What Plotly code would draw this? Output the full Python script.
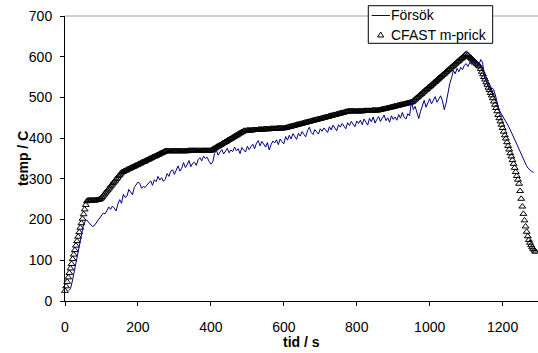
import plotly.graph_objects as go

# Försök (measured gas temperature), one reading every 5 s starting at 10 s
forsok_start = 10
forsok_step = 5
forsok_temp = [
    25, 30, 48, 72, 98, 122, 146, 166, 184, 196,
    199, 193, 187, 183, 185, 191, 198, 206, 211, 216,
    214, 224, 231, 225, 233, 228, 221, 238, 249, 240,
    262, 254, 258, 274, 266, 261, 279, 286, 292, 289,
    277, 281, 279, 285, 291, 295, 284, 298, 293, 306,
    297, 303, 294, 299, 313, 306, 319, 322, 311, 324,
    332, 319, 326, 340, 328, 335, 345, 330, 338, 341,
    333, 347, 352, 344, 356, 350, 353, 343, 336, 341,
    362, 370, 358, 366, 372, 361, 369, 375, 364, 371,
    367, 378, 369, 374, 362, 377, 371, 366, 380, 372,
    379, 385, 374, 388, 394, 381, 392, 386, 378, 389,
    371, 384, 393, 388, 396, 384, 398, 391, 386, 404,
    395, 407, 398, 411, 402, 397, 412, 405, 416, 408,
    403, 418, 427, 414, 409, 421, 416, 410, 423, 417,
    425, 419, 414, 428, 420, 432, 424, 418, 433, 427,
    436, 429, 423, 438, 431, 441, 434, 428, 442, 436,
    444, 433, 447, 438, 432, 449, 440, 452, 437, 446,
    453, 441, 448, 457, 443, 450, 439, 455, 446, 452,
    444, 458, 449, 463, 451, 447, 460, 455, 491, 470,
    478, 462, 448, 466, 482, 493, 476, 489, 497, 484,
    495, 502, 488, 497, 504, 492, 470, 486, 512, 534,
    548, 566, 558, 571, 563, 574, 568, 579, 583, 576,
    586, 581, 591, 584, 588, 580, 593, 586, 551, 538,
    528, 517, 524, 520, 506, 488, 470, 462, 455, 447,
    440, 431, 422, 411, 402, 393, 383, 373, 362, 350,
    341, 333, 326, 321, 318, 316,
]

# CFAST m-prick, one value every 3 s starting at 0 s
cfast_step = 3
cfast_temp = [
    # 0 - 60
    25, 36, 47, 58, 69, 80, 91, 103, 114, 125, 136, 147, 158, 169, 180, 191,
    202, 213, 225, 236, 245,
    # 63 - 99
    247, 247, 247, 247, 247, 247, 247, 247, 248, 248, 249, 250, 252,
    # 102 - 156
    255, 259, 262, 266, 269, 272, 276, 279, 283, 286, 290, 293, 296, 300,
    303, 307, 310, 313, 316,
    # 159 - 276
    317, 319, 320, 321, 323, 324, 325, 327, 328, 329, 330, 332, 333, 334,
    336, 337, 338, 340, 341, 342, 343, 345, 346, 347, 349, 350, 351, 353,
    354, 355, 356, 358, 359, 360, 362, 363, 364, 366, 367, 368,
    # 279 - 399
    368, 368, 368, 368, 368, 368, 368, 368, 368, 368, 368, 368, 368, 368,
    368, 368, 368, 368, 368, 368, 369, 369, 369, 369, 369, 369, 369, 369,
    369, 369, 369, 369, 369, 369, 369, 369, 369, 369, 369, 369, 369,
    # 402 - 492
    371, 372, 374, 375, 377, 379, 380, 382, 383, 385, 387, 388, 390, 391,
    393, 395, 396, 398, 399, 401, 403, 404, 406, 407, 409, 411, 412, 414,
    415, 417, 418,
    # 495 - 600
    418, 418, 419, 419, 419, 419, 419, 420, 420, 420, 420, 420, 421, 421,
    421, 421, 421, 422, 422, 422, 422, 422, 422, 423, 423, 423, 423, 423,
    423, 424, 424, 424, 424, 424, 424, 424,
    # 603 - 777
    425, 425, 426, 427, 428, 428, 429, 430, 430, 431, 432, 433, 433, 434,
    435, 435, 436, 437, 438, 438, 439, 440, 440, 441, 442, 443, 443, 444,
    445, 445, 446, 447, 447, 448, 449, 450, 450, 451, 452, 452, 453, 454,
    455, 455, 456, 457, 457, 458, 459, 460, 460, 461, 462, 462, 463, 464,
    465, 465, 466,
    # 780 - 858
    466, 466, 466, 466, 466, 466, 466, 466, 466, 466, 466, 466, 466, 467,
    467, 467, 467, 467, 467, 467, 467, 468, 468, 468, 468, 468, 468,
    # 861 - 951
    469, 469, 470, 471, 471, 472, 472, 473, 474, 474, 475, 476, 476, 477,
    478, 478, 479, 480, 480, 481, 482, 482, 483, 484, 484, 485, 486, 486,
    487, 488, 488,
    # 954 - 1101
    490, 493, 495, 498, 500, 502, 505, 507, 509, 512, 514, 517, 519, 521,
    524, 526, 528, 531, 533, 536, 538, 540, 543, 545, 548, 550, 552, 555,
    557, 559, 562, 564, 567, 569, 571, 574, 576, 578, 581, 583, 586, 588,
    590, 593, 595, 597, 600, 602, 605, 607,
    # 1104 - 1290
    604, 602, 599, 597, 594, 591, 589, 586, 583, 581, 578, 576,
    570, 563, 557, 550, 544, 537, 531, 524, 518, 511, 505, 498,
    490, 482, 474, 466, 457, 449, 441, 433, 425, 416,
    407, 399, 390, 381, 372, 363, 355, 346, 337,
    327, 317, 307, 298, 288,
    270, 251, 232, 214, 198, 183, 170, 159, 150, 143, 137, 132, 128, 124, 121,
]

x_ticks = [0, 200, 400, 600, 800, 1000, 1200]
y_ticks = [0, 100, 200, 300, 400, 500, 600, 700]

forsok_time = [forsok_start + forsok_step * i for i in range(len(forsok_temp))]
cfast_time = [cfast_step * i for i in range(len(cfast_temp))]

FONT = "Liberation Sans, Arial, sans-serif"

fig = go.Figure()
fig.add_trace(go.Scatter(
    x=cfast_time, y=cfast_temp, mode="markers", name="CFAST m-prick",
    marker=dict(symbol="triangle-up-open", size=6, color="black",
                line=dict(color="black", width=1)),
    cliponaxis=False,
))
fig.add_trace(go.Scatter(
    x=forsok_time, y=forsok_temp, mode="lines", name="Försök",
    line=dict(color="#000080", width=1),
))

axis_common = dict(
    showline=True, linecolor="black", linewidth=1,
    ticks="outside", ticklen=4, tickcolor="black", tickwidth=1,
    showgrid=False, zeroline=False,
    tickfont=dict(family=FONT, size=14, color="black"),
)

fig.update_layout(
    width=538, height=353,
    margin=dict(l=65, r=0, t=16, b=52),
    paper_bgcolor="white", plot_bgcolor="white",
    showlegend=False,
    xaxis=dict(range=[0, 1297], tickvals=x_ticks, ticklabelstandoff=9, **axis_common),
    yaxis=dict(range=[0, 700], tickvals=y_ticks, ticklabelstandoff=5, **axis_common),
)

# grey plot-area border along the top, then the boxed legend
fig.add_shape(type="line", xref="paper", yref="paper", x0=0, x1=1, y0=1, y1=1,
              line=dict(color="#a0a0a0", width=1))
fig.add_shape(type="rect", xref="paper", yref="paper",
              x0=0.6412, x1=0.9042, y0=0.9042, y1=1.0361,
              line=dict(color="black", width=1), fillcolor="white")
fig.add_shape(type="line", xref="paper", yref="paper",
              x0=0.6484, x1=0.6871, y0=1.0018, y1=1.0018,
              line=dict(color="#000080", width=1))
fig.add_shape(type="path", xref="paper", yref="paper",
              xsizemode="pixel", ysizemode="pixel", xanchor=0.6674, yanchor=0.9333,
              path="M -3 -2 L 3 -2 L 0 3 Z",
              line=dict(color="black", width=1), fillcolor="rgba(0,0,0,0)")

fig.add_annotation(text="Försök", xref="paper", yref="paper", x=0.685, y=1.0018,
                   xanchor="left", yanchor="middle", showarrow=False,
                   font=dict(family=FONT, size=14, color="black"))
fig.add_annotation(text="CFAST m-prick", xref="paper", yref="paper", x=0.685, y=0.9333,
                   xanchor="left", yanchor="middle", showarrow=False,
                   font=dict(family=FONT, size=14, color="black"))

# axis titles
fig.add_annotation(text="<b>tid / s</b>", xref="paper", yref="paper", x=0.499, y=-0.1456,
                   xanchor="center", yanchor="middle", showarrow=False,
                   font=dict(family=FONT, size=14, color="black"))
fig.add_annotation(text="<b>temp / C</b>", xref="paper", yref="paper", x=-0.0888, y=0.5018,
                   xanchor="center", yanchor="middle", showarrow=False, textangle=-90,
                   font=dict(family=FONT, size=14, color="black"))

# the page's default body margin would push the 538x353 figure off the window
fig.write_html("out.html", config={"displayModeBar": False},
               post_script="document.body.style.margin = '0';")
